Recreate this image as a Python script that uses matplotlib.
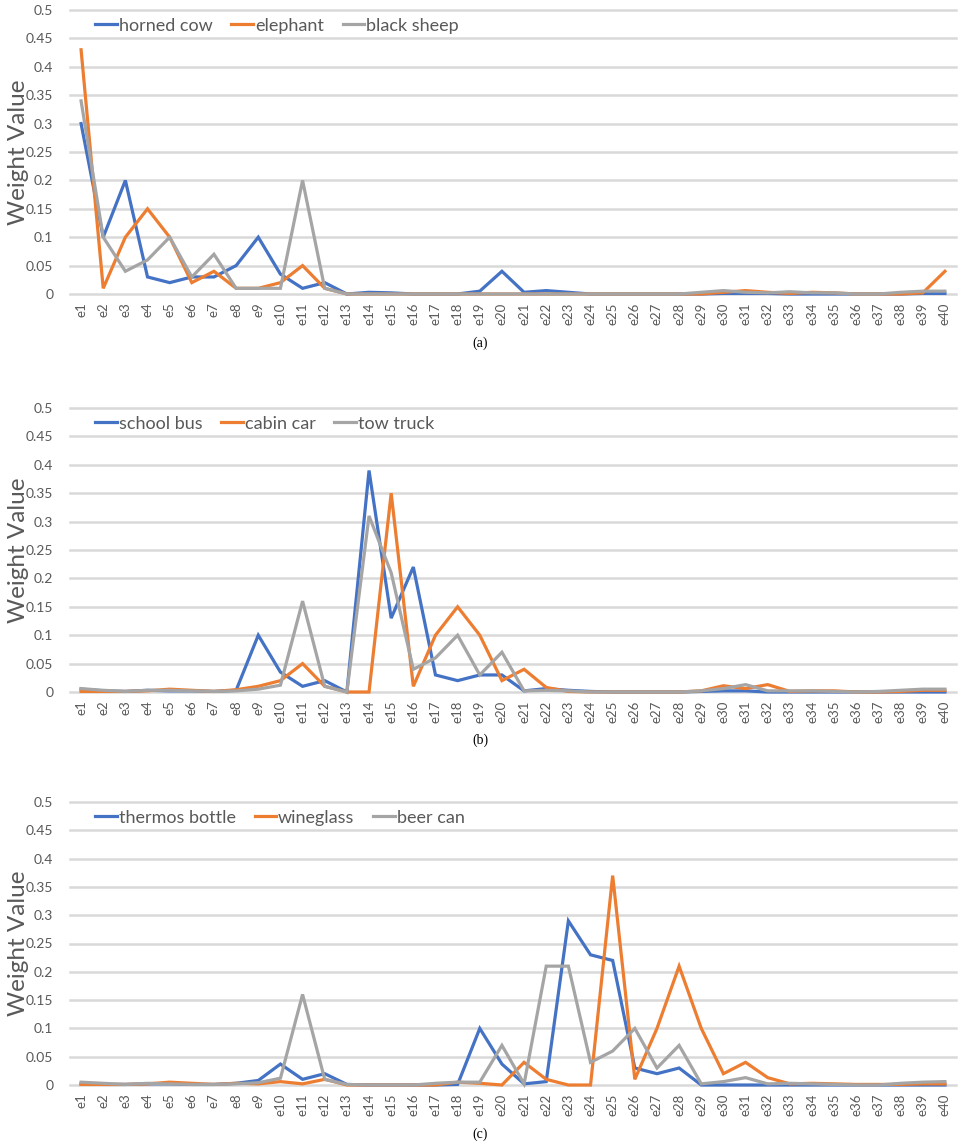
import matplotlib
matplotlib.use("Agg")
import matplotlib.pyplot as plt

categories = [f"e{i}" for i in range(1, 41)]
y_ticks = [0, 0.05, 0.1, 0.15, 0.2, 0.25, 0.3, 0.35, 0.4, 0.45, 0.5]
y_tick_labels = ["0", "0.05", "0.1", "0.15", "0.2", "0.25", "0.3", "0.35", "0.4", "0.45", "0.5"]

# Panel (a)
horned_cow = [0.30, 0.10, 0.20, 0.03, 0.02, 0.03, 0.03, 0.05, 0.10, 0.035,
              0.01, 0.02, 0.0, 0.003, 0.002, 0.0, 0.0, 0.0, 0.005, 0.04,
              0.003, 0.006, 0.003, 0.0, 0.0, 0.0, 0.0, 0.0, 0.0, 0.001,
              0.001, 0.001, 0.0, 0.0, 0.0, 0.0, 0.0, 0.0, 0.001, 0.001]
elephant = [0.43, 0.01, 0.10, 0.15, 0.10, 0.02, 0.04, 0.01, 0.01, 0.02,
            0.05, 0.01, 0.0, 0.0, 0.0, 0.0, 0.0, 0.0, 0.0, 0.0,
            0.0, 0.0, 0.0, 0.0, 0.0, 0.0, 0.0, 0.0, 0.0, 0.003,
            0.006, 0.003, 0.001, 0.003, 0.002, 0.0, 0.0, 0.0, 0.002, 0.04]
black_sheep = [0.34, 0.10, 0.04, 0.06, 0.10, 0.03, 0.07, 0.01, 0.01, 0.01,
               0.20, 0.01, 0.0, 0.0, 0.0, 0.0, 0.0, 0.0, 0.0, 0.0,
               0.0, 0.0, 0.0, 0.0, 0.0, 0.0, 0.0, 0.0, 0.003, 0.006,
               0.003, 0.002, 0.004, 0.002, 0.002, 0.0, 0.0, 0.003, 0.005, 0.005]

# Panel (b)
school_bus = [0.005, 0.002, 0.001, 0.003, 0.002, 0.002, 0.001, 0.003, 0.10, 0.035,
              0.01, 0.02, 0.0, 0.39, 0.13, 0.22, 0.03, 0.02, 0.03, 0.03,
              0.002, 0.006, 0.003, 0.001, 0.0, 0.0, 0.0, 0.0, 0.001, 0.002,
              0.002, 0.0, 0.0, 0.0, 0.0, 0.0, 0.0, 0.0, 0.0, 0.0]
cabin_car = [0.001, 0.001, 0.001, 0.002, 0.005, 0.003, 0.001, 0.004, 0.01, 0.02,
             0.05, 0.01, 0.0, 0.0, 0.35, 0.01, 0.10, 0.15, 0.10, 0.02,
             0.04, 0.008, 0.001, 0.0, 0.0, 0.0, 0.0, 0.0, 0.002, 0.011,
             0.006, 0.013, 0.001, 0.002, 0.002, 0.0, 0.0, 0.001, 0.003, 0.003]
tow_truck = [0.006, 0.003, 0.001, 0.003, 0.003, 0.002, 0.001, 0.002, 0.005, 0.012,
             0.16, 0.01, 0.0, 0.31, 0.21, 0.04, 0.06, 0.10, 0.03, 0.07,
             0.002, 0.003, 0.002, 0.0, 0.0, 0.0, 0.0, 0.0, 0.002, 0.006,
             0.013, 0.002, 0.002, 0.002, 0.001, 0.0, 0.001, 0.003, 0.005, 0.005]

# Panel (c)
thermos_bottle = [0.002, 0.001, 0.001, 0.002, 0.002, 0.001, 0.001, 0.003, 0.008, 0.037,
                  0.01, 0.02, 0.001, 0.0, 0.0, 0.0, 0.0, 0.001, 0.10, 0.037,
                  0.002, 0.006, 0.29, 0.23, 0.22, 0.03, 0.02, 0.03, 0.0, 0.0,
                  0.0, 0.0, 0.0, 0.0, 0.0, 0.0, 0.0, 0.0, 0.0, 0.0]
wineglass = [0.001, 0.001, 0.001, 0.002, 0.005, 0.003, 0.001, 0.003, 0.002, 0.006,
             0.002, 0.01, 0.0, 0.0, 0.0, 0.0, 0.0, 0.005, 0.003, 0.0,
             0.04, 0.01, 0.0, 0.0, 0.37, 0.01, 0.10, 0.21, 0.10, 0.02,
             0.04, 0.013, 0.002, 0.003, 0.002, 0.001, 0.001, 0.001, 0.002, 0.002]
beer_can = [0.005, 0.003, 0.001, 0.003, 0.002, 0.001, 0.001, 0.002, 0.004, 0.012,
            0.16, 0.01, 0.001, 0.0, 0.0, 0.0, 0.003, 0.005, 0.005, 0.07,
            0.002, 0.21, 0.21, 0.04, 0.06, 0.10, 0.03, 0.07, 0.002, 0.006,
            0.013, 0.002, 0.003, 0.002, 0.001, 0.0, 0.0, 0.003, 0.005, 0.006]

panels = [
    (["horned cow", "elephant", "black sheep"], [horned_cow, elephant, black_sheep], "(a)"),
    (["school bus", "cabin car", "tow truck"], [school_bus, cabin_car, tow_truck], "(b)"),
    (["thermos bottle", "wineglass", "beer can"], [thermos_bottle, wineglass, beer_can], "(c)"),
]

colors = ["#4472C4", "#ED7D31", "#A5A5A5"]
grid_color = "#D9D9D9"
text_color = "#595959"
font = ["Lato", "DejaVu Sans"]

W, H = 963, 1148
fig = plt.figure(figsize=(W / 100, H / 100), dpi=100)

# pixel geometry: (top, bottom) of each plot area
areas = [(10, 294), (408, 692), (802, 1085)]
left_px, right_px = 70, 956
caption_y = [343, 740, 1134]

for (labels, series, cap), (top, bot), cy in zip(panels, areas, caption_y):
    ax = fig.add_axes([left_px / W, 1 - bot / H, (right_px - left_px) / W, (bot - top) / H])
    x = list(range(len(categories)))
    for yt in y_ticks:
        ax.axhline(yt, color=grid_color, lw=1.8, zorder=0, clip_on=False)
    for lab, vals, c in zip(labels, series, colors):
        ax.plot(x, vals, color=c, lw=2.3, label=lab, clip_on=False, zorder=3,
                solid_joinstyle="miter")
    ax.set_xlim(-0.5, len(categories) - 0.5)
    ax.set_ylim(0, 0.5)
    for s in ax.spines.values():
        s.set_visible(False)
    ax.set_yticks(y_ticks)
    ax.set_yticklabels(y_tick_labels, family=font, fontsize=10, color=text_color)
    ax.set_xticks(x)
    ax.set_xticklabels(categories, rotation=90, family=font, fontsize=9.5, color=text_color)
    ax.tick_params(axis="both", length=0, pad=6)
    ax.tick_params(axis="y", pad=12)
    ylab = ax.set_ylabel("Weight Value", family=font, fontsize=17.5, color=text_color)
    ylab.set_verticalalignment("center")
    ax.yaxis.set_label_coords((18 - left_px) / (right_px - left_px), 0.5)
    leg = ax.legend(loc="upper left", bbox_to_anchor=(0.010, 1.03), ncol=3, frameon=False,
                    prop={"family": font, "size": 13}, handlelength=1.2, handletextpad=0.1,
                    columnspacing=1.05, labelcolor=text_color)
    for h in leg.legend_handles:
        h.set_linewidth(2.3)
    fig.text(480 / W, 1 - cy / H, cap, ha="center", va="center",
             family=["Liberation Serif", "DejaVu Serif"], fontsize=10, color="black")

fig.savefig("out.png", dpi=100)
